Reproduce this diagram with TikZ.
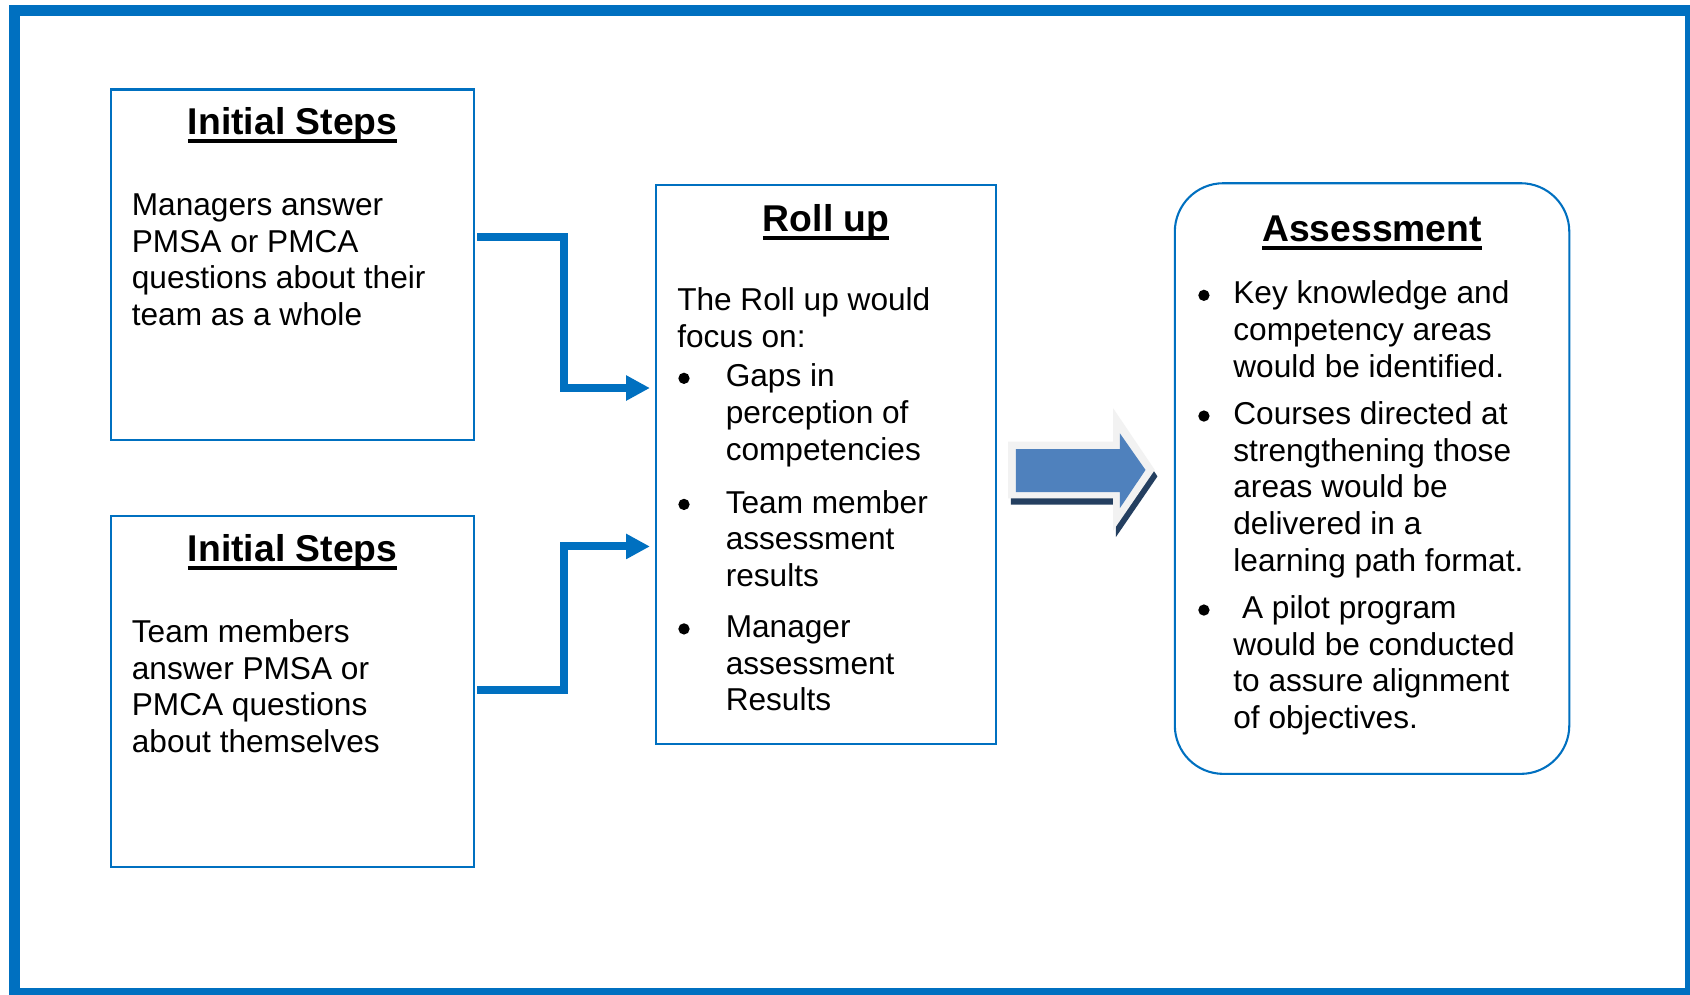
\documentclass[tikz,border=0pt]{standalone}
\usepackage{fontspec}
\setmainfont{Liberation Sans}
\usetikzlibrary{arrows.meta,fit}
\definecolor{bblue}{HTML}{0070C0}
\definecolor{arrblue}{HTML}{4F81BD}
\definecolor{arrgrey}{HTML}{F2F2F2}
\definecolor{arrshadow}{HTML}{243F60}
\newsavebox\ttlbox
\newcommand\ulttl[1]{\sbox\ttlbox{#1}\rlap{\rule[-4.4pt]{\wd\ttlbox}{2.1pt}}\usebox\ttlbox}
\tikzset{
  box/.style={draw=bblue, line width=1.1pt, inner sep=0pt, outer sep=0pt},
  ttlstyle/.style={anchor=base, inner sep=0pt, font=\fontsize{19.7}{23}\selectfont\bfseries},
  bodytext/.style={anchor=base west, inner sep=0pt, font=\fontsize{16.7}{19.35}\selectfont},
  conn/.style={draw=bblue, line width=4.2pt, -{Triangle[length=0.44cm, width=0.44cm]}},
  bul/.style={fill=black},
}
\begin{document}
\begin{tikzpicture}[x=0.02cm, y=-0.02cm]
\useasboundingbox (0,0) rectangle (1568,923);
\clip (0,0) rectangle (1568,923);
\fill[white] (0,0) rectangle (1568,923);
% outer frame
\draw[bblue, line width=0.208cm] (13.5,9.7) rectangle (1568.5,921.4);

% boxes
\node[box, fit={(103,83) (440,408)}] (b1) {};
\node[box, fit={(103,479) (440,804)}] (b2) {};
\node[box, fit={(609,172) (924,690)}] (roll) {};
\node[box, rounded corners=0.9cm, fit={(1090,170) (1456,718)}] (asm) {};

% box 1
\node[ttlstyle] (t1) at (271.5,125) {\ulttl{Initial Steps}};
\node[bodytext] (x1) at (122,200) {\parbox[t]{7cm}{\raggedright Managers answer\\PMSA or PMCA\\questions about their\\team as a whole}};

% box 2
\node[ttlstyle] (t2) at (271.5,521) {\ulttl{Initial Steps}};
\node[bodytext] (x2) at (122,596) {\parbox[t]{7cm}{\raggedright Team members\\answer PMSA or\\PMCA questions\\about themselves}};

% roll up
\node[ttlstyle] (t3) at (766.5,215) {\ulttl{Roll up}};
\node[bodytext] (x3) at (628,288) {\parbox[t]{6cm}{\raggedright The Roll up would\\focus on:}};
\fill[bul] (634.6,351) circle[radius=0.105cm];
\node[bodytext] (r1) at (673,359) {\parbox[t]{5cm}{\raggedright Gaps in\\perception of\\competencies}};
\fill[bul] (634.6,468) circle[radius=0.105cm];
\node[bodytext] (r2) at (673,476) {\parbox[t]{5cm}{\raggedright Team member\\assessment\\results}};
\fill[bul] (634.6,583.5) circle[radius=0.105cm];
\node[bodytext] (r3) at (673,591.5) {\parbox[t]{5cm}{\raggedright Manager\\assessment\\Results}};

% assessment
\node[ttlstyle] (t4) at (1273,224) {\ulttl{Assessment}};
\fill[bul] (1117,274) circle[radius=0.105cm];
\node[bodytext] (a1) at (1144,282) {\parbox[t]{6.5cm}{\raggedright Key knowledge and\\competency areas\\would be identified.}};
\fill[bul] (1117,386) circle[radius=0.105cm];
\node[bodytext] (a2) at (1144,394) {\parbox[t]{6.5cm}{\raggedright Courses directed at\\strengthening those\\areas would be\\delivered in a\\learning path format.}};
\fill[bul] (1117,566) circle[radius=0.105cm];
\node[bodytext] (a3) at (1144,574) {\parbox[t]{6.5cm}{\raggedright \hspace*{4.6pt}A pilot program\\would be conducted\\to assure alignment\\of objectives.}};

% elbow connectors
\draw[conn] ([shift={(3,-25.5)}]b1.east) -- ++(80,0) |- ([shift={(-6,-71)}]roll.west);
\draw[conn] ([shift={(3,-1.5)}]b2.east) -- ++(80,0) |- ([shift={(-6,76)}]roll.west);

% block arrow
\fill[arrshadow, shift={(2.5,6)}] (935.4,409.7) -- (1032.8,409.7) -- (1032.8,378.8) -- (1071.4,436) -- (1032.8,492.3) -- (1032.8,462.3) -- (935.4,462.3) -- cycle;
\fill[arrgrey] (935.4,409.7) -- (1032.8,409.7) -- (1032.8,378.8) -- (1071.4,436) -- (1032.8,492.3) -- (1032.8,462.3) -- (935.4,462.3) -- cycle;
\fill[arrblue] (942.5,416.8) -- (1039,416.8) -- (1039,402) -- (1062.8,436) -- (1039,471.5) -- (1039,456.7) -- (942.5,456.7) -- cycle;
\end{tikzpicture}
\end{document}
